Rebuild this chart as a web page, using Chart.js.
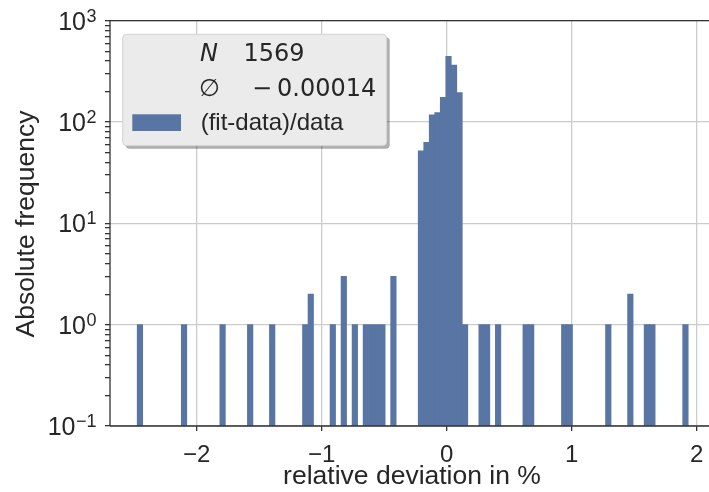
<!DOCTYPE html>
<html>
<head>
<meta charset="utf-8">
<script src="https://cdn.jsdelivr.net/npm/chart.js@4"></script>
<style>
  html, body { margin: 0; padding: 0; background: #fff; }
</style>
</head>
<body>
<canvas id="hist" width="709" height="492"></canvas>
<script>
// histogram: 100 bins between binLo and binHi, only the occupied bins are listed
let binLo = -2.476;
let binHi = 1.932;
let binCount = 100;
let binIdx = [0, 8, 15, 20, 24, 30, 31, 35, 37, 39, 41, 42, 43, 44, 46,
              51, 52, 53, 54, 55, 56, 57, 58, 59,
              62, 63, 65, 70, 71, 77, 78, 85, 89, 92, 93, 99];
let counts = [1, 1, 1, 1, 1, 1, 2, 1, 3, 1, 1, 1, 1, 1, 3,
              52, 63, 118, 124, 175, 444, 364, 195, 1,
              1, 1, 1, 1, 1, 1, 1, 1, 2, 1, 1, 1];

// axes
let xTicks = [-2, -1, 0, 1, 2];
let yTicks = [0.1, 1, 10, 100, 1000];
let yTickExp = ['\u22121', '0', '1', '2', '3'];   // shown as 10^exp
let xTitle = 'relative deviation in %';
let yTitle = 'Absolute frequency';

// legend entries
let statN = '1569';
let statMean = '0.00014';   // printed with a leading minus
let seriesName = '(fit-data)/data';

let barColor = '#5875a4';
let textColor = '#262626';

// minor log ticks 2..9 per decade
let yMinor = [];
for (let d = 0; d < yTicks.length - 1; d++) {
  for (let m = 2; m <= 9; m++) yMinor.push(yTicks[d] * m);
}

let binW = (binHi - binLo) / binCount;
let points = binIdx.map((b, i) => ({ x: binLo + (b + 0.5) * binW, y: counts[i] }));

// spines, y tick labels, axis titles and the legend box
let decorPlugin = {
  id: 'decor',
  afterDatasetsDraw(chart) {
    let ctx = chart.ctx;
    let a = chart.chartArea;
    ctx.save();
    ctx.strokeStyle = '#333';
    ctx.lineWidth = 1.3;
    ctx.beginPath();
    ctx.moveTo(a.left, a.top); ctx.lineTo(a.right, a.top);
    ctx.moveTo(a.left, a.bottom); ctx.lineTo(a.right, a.bottom);
    ctx.moveTo(a.left, a.top); ctx.lineTo(a.left, a.bottom);
    ctx.stroke();
    ctx.restore();
  },
  afterDraw(chart) {
    let ctx = chart.ctx;
    let ys = chart.scales.y;
    ctx.save();
    ctx.fillStyle = textColor;

    // y tick labels as 10 with a raised exponent
    ctx.textBaseline = 'alphabetic';
    ctx.textAlign = 'left';
    yTicks.forEach((v, i) => {
      let py = ys.getPixelForValue(v);
      ctx.font = '18px "Liberation Sans"';
      let ew = ctx.measureText(yTickExp[i]).width;
      ctx.font = '25px "Liberation Sans"';
      let bw = ctx.measureText('10').width;
      let x0 = 96 - ew - bw;
      ctx.fillText('10', x0, py + 9);
      ctx.font = '18px "Liberation Sans"';
      ctx.fillText(yTickExp[i], x0 + bw + 0.5, py + 1);
    });

    // axis titles
    ctx.font = '26.5px "Liberation Sans"';
    ctx.textAlign = 'center';
    ctx.fillText(xTitle, 412, 484);
    ctx.save();
    ctx.translate(34, 224);
    ctx.rotate(-Math.PI / 2);
    ctx.fillText(yTitle, 0, 0);
    ctx.restore();

    // legend frame with shadow
    let lx = 122.7, ly = 34.3, lw = 264, lh = 111.4;
    ctx.fillStyle = 'rgba(0,0,0,0.32)';
    ctx.beginPath(); ctx.roundRect(lx + 3, ly + 3, lw, lh, 4); ctx.fill();
    ctx.fillStyle = '#ebebeb';
    ctx.strokeStyle = '#d2d2d2';
    ctx.lineWidth = 1;
    ctx.beginPath(); ctx.roundRect(lx, ly, lw, lh, 4); ctx.fill(); ctx.stroke();

    ctx.fillStyle = textColor;
    ctx.textAlign = 'left';
    ctx.font = 'italic 24px "DejaVu Sans"';
    ctx.fillText('N', 200, 61);
    ctx.font = '24px "DejaVu Sans"';
    ctx.fillText(statN, 243.5, 61);
    ctx.fillText('\u2205', 199, 96);
    ctx.fillText('\u2212', 252, 96);
    ctx.fillText(statMean, 277, 96);

    ctx.fillStyle = barColor;
    ctx.fillRect(132.3, 114.3, 48.7, 16.7);
    ctx.fillStyle = textColor;
    ctx.font = '24px "Liberation Sans"';
    ctx.fillText(seriesName, 200.7, 130);
    ctx.restore();
  }
};

let chart = new Chart(document.getElementById('hist').getContext('2d'), {
  type: 'bar',
  data: {
    datasets: [{
      label: seriesName,
      data: points,
      backgroundColor: barColor,
      borderWidth: 0,
      barPercentage: 1,
      categoryPercentage: 1
    }]
  },
  options: {
    responsive: false,
    animation: false,
    layout: { padding: { top: 20.7, left: 0, right: 0, bottom: 0 } },
    plugins: { legend: { display: false }, tooltip: { enabled: false } },
    scales: {
      x: {
        type: 'linear',
        min: -2.6936,
        max: 2.0984,
        offset: false,
        afterBuildTicks: s => { s.ticks = xTicks.map(v => ({ value: v })); },
        afterFit: s => { s.height = 66; s.paddingLeft = 0; s.paddingRight = 0; },
        ticks: {
          autoSkip: false,
          maxRotation: 0,
          padding: 10,
          color: textColor,
          font: { family: 'Liberation Sans', size: 24 },
          callback: v => String(v).replace('-', '\u2212')
        },
        grid: { offset: false, color: '#cccccc', lineWidth: 1.3, tickColor: '#333', tickLength: 5 },
        border: { display: false }
      },
      y: {
        type: 'logarithmic',
        min: 0.1,
        max: 1000,
        afterBuildTicks: s => {
          s.ticks = yTicks.concat(yMinor).sort((p, q) => p - q).map(v => ({ value: v }));
        },
        afterFit: s => { s.width = 110; s.paddingTop = 0; s.paddingBottom = 0; },
        ticks: {
          autoSkip: false,
          padding: 10,
          callback: () => ''   // labels with exponents are drawn by the decor plugin
        },
        grid: {
          color: c => (c.tick && yTicks.indexOf(c.tick.value) >= 0) ? '#cccccc' : 'rgba(0,0,0,0)',
          lineWidth: 1.3,
          tickColor: '#333',
          tickLength: 5
        },
        border: { display: false }
      }
    }
  },
  plugins: [decorPlugin]
});
</script>
</body>
</html>
